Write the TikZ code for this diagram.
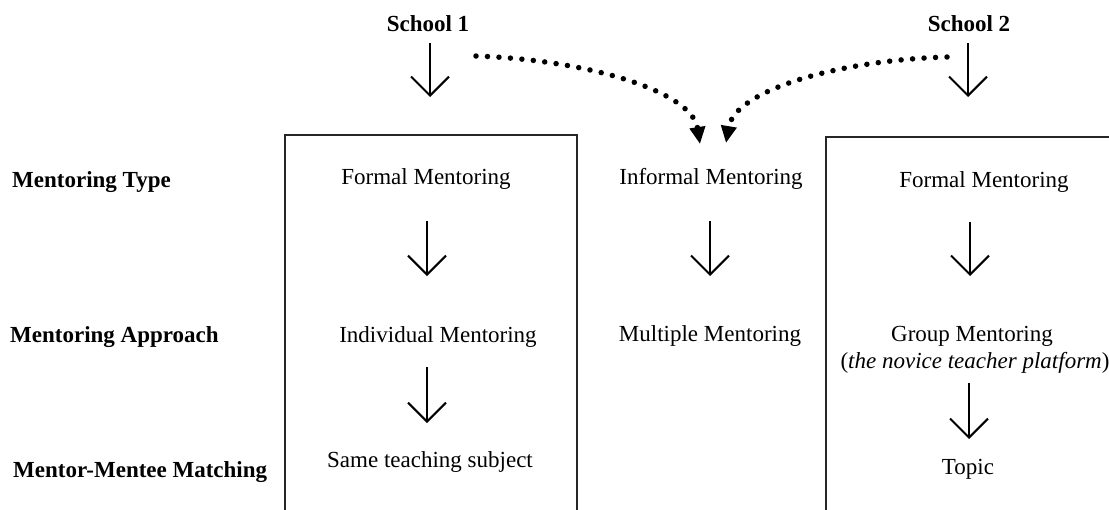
\documentclass[tikz,border=0pt]{standalone}
\usepackage{fontspec}
\setmainfont{Liberation Serif}
\usetikzlibrary{arrows.meta}

\tikzset{
  txt/.style={inner sep=0pt, anchor=base, font=\fontsize{23pt}{27pt}\selectfont},
  rowlabel/.style={txt, anchor=base west, font=\fontsize{23pt}{27pt}\selectfont\bfseries},
  school/.style={txt, font=\fontsize{23pt}{27pt}\selectfont\bfseries},
  frame/.style={line width=2pt, draw=black!85},
  openarrow/.style={line width=2pt, -{Straight Barb[length=19pt, width=38pt, line width=2pt]}},
  dotarrow/.style={line width=5.5pt, line cap=round, dash pattern=on 0pt off 11.5pt,
    -{Triangle[length=17pt, width=15pt]}}
}

\begin{document}
\begin{tikzpicture}[x=1pt, y=-1pt]
  \useasboundingbox (0,0) rectangle (1109,509);
  \clip (0,0) rectangle (1109,509);

  % school headings
  \node[school] (s1) at (428,31) {School 1};
  \node[school] (s2) at (969,31) {School 2};

  % row labels
  \node[rowlabel] (ltype)  at (12,187) {Mentoring Type};
  \node[rowlabel] (lappr)  at (10,342) {Mentoring Approach};
  \node[rowlabel] (lmatch) at (13,477) {Mentor-Mentee Matching};

  % frames of the two schools
  \draw[frame] (285,512) |- (577,135) -- (577,512);
  \draw[frame] (826,512) |- (1115,137);

  % school 1 column
  \node[txt] (fmL) at (426,184) {Formal Mentoring};
  \node[txt] (imL) at (438,342) {Individual Mentoring};
  \node[txt] (stL) at (430,467) {Same teaching subject};

  % shared column
  \node[txt] (inf) at (711,184) {Informal Mentoring};
  \node[txt] (mul) at (710,341) {Multiple Mentoring};

  % school 2 column
  \node[txt] (fmR) at (984,187) {Formal Mentoring};
  \node[txt] (gmR) at (972,341) {Group Mentoring};
  \node[txt] (ntR) at (975,368) {(\textit{the novice teacher platform})};
  \node[txt] (tpR) at (968,474) {Topic};

  % arrow end points
  \coordinate (s1a) at (430,43);   \coordinate (s1b) at (430,97);
  \coordinate (s2a) at (968,43);   \coordinate (s2b) at (968,97);
  \coordinate (l1a) at (427,221);  \coordinate (l1b) at (427,276);
  \coordinate (l2a) at (427,367);  \coordinate (l2b) at (427,423);
  \coordinate (m1a) at (710,221);  \coordinate (m1b) at (710,276);
  \coordinate (r1a) at (970,222);  \coordinate (r1b) at (970,276);
  \coordinate (r2a) at (969,383);  \coordinate (r2b) at (969,439);
  \coordinate (d1a) at (476,56);   \coordinate (d1b) at (700,144);
  \coordinate (d2a) at (947,57);   \coordinate (d2b) at (726,143);

  % solid arrows
  \draw[openarrow] (s1a) -- (s1b);
  \draw[openarrow] (s2a) -- (s2b);
  \draw[openarrow] (l1a) -- (l1b);
  \draw[openarrow] (l2a) -- (l2b);
  \draw[openarrow] (m1a) -- (m1b);
  \draw[openarrow] (r1a) -- (r1b);
  \draw[openarrow] (r2a) -- (r2b);

  % dotted arrows into informal mentoring
  \draw[dotarrow] (d1a) .. controls (590,60) and (692,92) .. (d1b);
  \draw[dotarrow] (d2a) .. controls (840,60) and (735,90) .. (d2b);
\end{tikzpicture}
\end{document}
